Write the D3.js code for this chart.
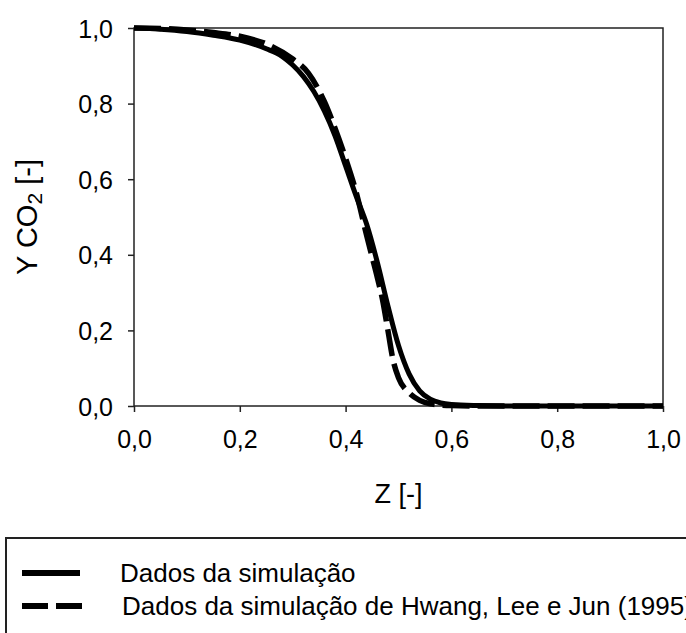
<!DOCTYPE html>
<html>
<head>
<meta charset="utf-8">
<script src="https://cdn.jsdelivr.net/npm/d3@7"></script>
<style>
  body { margin: 0; background: #fff; }
  svg { display: block; font-family: "Liberation Sans", Arial, sans-serif; }
</style>
</head>
<body>
<script>
'use strict';

// Z [-] positions along the column
const zSim = [0, 0.05, 0.10, 0.15, 0.20, 0.25, 0.28, 0.30, 0.32, 0.34, 0.36, 0.38, 0.40,
              0.42, 0.44, 0.46, 0.48, 0.50, 0.52, 0.54, 0.56, 0.58, 0.60, 0.65, 0.70, 0.80, 0.90, 1.0];
const ySim = [1.000, 0.997, 0.991, 0.981, 0.968, 0.945, 0.925, 0.902, 0.872, 0.832, 0.780, 0.715, 0.635,
              0.555, 0.480, 0.380, 0.265, 0.160, 0.085, 0.040, 0.018, 0.008, 0.004, 0.001, 0, 0, 0, 0];

const zHwang = [0, 0.05, 0.10, 0.15, 0.20, 0.25, 0.30, 0.33, 0.36, 0.38, 0.40, 0.42, 0.44, 0.45,
                0.46, 0.47, 0.48, 0.49, 0.50, 0.52, 0.54, 0.56, 0.60, 0.65, 0.80, 1.0];
const yHwang = [1.000, 0.999, 0.995, 0.988, 0.978, 0.958, 0.918, 0.880, 0.805, 0.735, 0.655, 0.565, 0.450, 0.395,
                0.340, 0.280, 0.200, 0.120, 0.075, 0.035, 0.015, 0.006, 0.001, 0, 0, 0];

const xTicks = [0, 0.2, 0.4, 0.6, 0.8, 1.0];
const yTicks = [0, 0.2, 0.4, 0.6, 0.8, 1.0];
const legendLabels = ["Dados da simulação", "Dados da simulação de Hwang, Lee e Jun (1995)"];

const W = 686, H = 633;
const margin = {top: 28, right: 23, bottom: 227, left: 134},
      width = W - margin.left - margin.right,
      height = H - margin.top - margin.bottom;

const fmt = d3.format(".1f"),
      comma = (d) => fmt(d).replace(".", ",");

const svg = d3.select("body").append("svg")
    .attr("width", W)
    .attr("height", H);

const g = svg.append("g")
    .attr("transform", "translate(" + margin.left + "," + margin.top + ")");

const x = d3.scaleLinear().domain([0, 1]).range([0, width]);
const y = d3.scaleLinear().domain([0, 1]).range([height, 0]);

// frame
g.append("rect")
    .attr("width", width)
    .attr("height", height)
    .attr("fill", "none")
    .attr("stroke", "#222")
    .attr("stroke-width", 1.5);

const xAxis = g.append("g")
    .attr("transform", "translate(0," + height + ")")
    .call(d3.axisBottom(x).tickValues(xTicks).tickFormat(comma).tickSize(6).tickPadding(18));

const yAxis = g.append("g")
    .call(d3.axisLeft(y).tickValues(yTicks).tickFormat(comma).tickSize(6).tickPadding(15));

[xAxis, yAxis].forEach((a) => {
  a.select(".domain").remove();
  a.selectAll("line").attr("stroke", "#222").attr("stroke-width", 1.5);
  a.selectAll("text")
      .attr("fill", "#000")
      .style("font-size", "25px")
      .style("font-family", "'Liberation Sans', Arial, sans-serif");
});
yAxis.selectAll("text").attr("dy", "0.36em");

const line = d3.line()
    .x((d) => x(d[0]))
    .y((d) => y(d[1]))
    .curve(d3.curveMonotoneX);

g.append("path")
    .datum(zSim.map((z, i) => [z, ySim[i]]))
    .attr("d", line)
    .attr("fill", "none")
    .attr("stroke", "#000")
    .attr("stroke-width", 5);

g.append("path")
    .datum(zHwang.map((z, i) => [z, yHwang[i]]))
    .attr("d", line)
    .attr("fill", "none")
    .attr("stroke", "#000")
    .attr("stroke-width", 5.5)
    .attr("stroke-dasharray", "27,8");

// axis titles
svg.append("text")
    .attr("x", margin.left + width / 2)
    .attr("y", 503)
    .attr("text-anchor", "middle")
    .style("font-size", "27px")
    .text("Z [-]");

const yt = svg.append("text")
    .attr("transform", "translate(37," + (margin.top + height / 2) + ") rotate(-90)")
    .attr("text-anchor", "middle")
    .style("font-size", "29px");
yt.append("tspan").text("Y CO");
yt.append("tspan").attr("dy", 5).style("font-size", "21px").text("2");
yt.append("tspan").attr("dy", -5).text(" [-]");

// legend
const leg = svg.append("g");
leg.append("rect")
    .attr("x", 6)
    .attr("y", 538)
    .attr("width", 700)
    .attr("height", 120)
    .attr("fill", "none")
    .attr("stroke", "#222")
    .attr("stroke-width", 2);

const legRows = leg.selectAll(".row")
    .data(legendLabels)
  .enter().append("g")
    .attr("class", "row")
    .attr("transform", (d, i) => "translate(0," + (573 + i * 33) + ")");

legRows.append("line")
    .attr("x1", 22)
    .attr("x2", (d, i) => i === 0 ? 80 : 82)
    .attr("stroke", "#000")
    .attr("stroke-width", 6)
    .attr("stroke-dasharray", (d, i) => i === 0 ? null : "26,8");

legRows.append("text")
    .attr("x", (d, i) => i === 0 ? 120 : 122)
    .attr("dy", "0.35em")
    .style("font-size", "26px")
    .text((d) => d);
</script>
</body>
</html>
